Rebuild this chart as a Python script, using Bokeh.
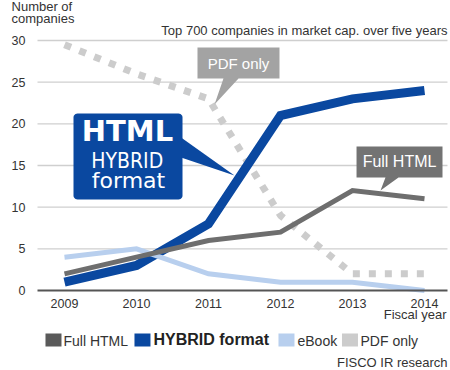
from bokeh.plotting import figure
from bokeh.models import Range1d, FixedTicker
from bokeh.core.properties import value
from bokeh.embed import file_html
from bokeh.resources import INLINE
import numpy as np

# ---------------- data ----------------
years = [2009, 2010, 2011, 2012, 2013, 2014]
full_html = [2, 4, 6, 7, 12, 11]
hybrid = [1, 3, 8, 21, 23, 24]
ebook = [4, 5, 2, 1, 1, 0]
pdf_only = [29.5, 26, 23, 9, 2, 2]
y_ticks = [0, 5, 10, 15, 20, 25, 30]
series_names = ["Full HTML", "HYBRID format", "eBook", "PDF only"]

# ---------------- style ----------------
C_FULL = "#6e6e6e"
C_FULL_SQ = "#5a5a5a"
C_HYB = "#0a48a0"
C_EBOOK = "#b8cfee"
C_PDF = "#cccccc"
C_GRID = "#cfcfcf"
C_TXT = "#333333"
FONT = "Liberation Sans"

# pixel scale: 72 px per year, 25/3 px per company
SX = 72.0
SY = 25.0 / 3.0

p = figure(width=450, height=370, output_backend="svg", toolbar_location=None,
           x_range=Range1d(2008.1111, 2014.3611), y_range=Range1d(-9.6, 34.8),
           min_border=0, min_border_left=0, min_border_right=0,
           min_border_top=0, min_border_bottom=0)
p.outline_line_color = None
p.background_fill_color = "white"
p.border_fill_color = "white"
p.xgrid.visible = False
p.ygrid.visible = False

# axes drawn at fixed locations inside the canvas
x_left, x_right = 2008.625, 2014.319
p.xaxis.fixed_location = 0
p.xaxis.ticker = FixedTicker(ticks=years)
p.xaxis.bounds = (x_left, x_right)
p.xaxis.axis_line_color = "#555555"
p.xaxis.axis_line_width = 2
p.xaxis.major_tick_line_color = None
p.xaxis.minor_tick_line_color = None
p.xaxis.major_label_text_font = FONT
p.xaxis.major_label_text_font_size = "12.5px"
p.xaxis.major_label_text_color = C_TXT
p.xaxis.major_label_standoff = 2

p.yaxis.fixed_location = x_left
p.yaxis.ticker = FixedTicker(ticks=y_ticks)
p.yaxis.axis_line_color = None
p.yaxis.major_tick_line_color = None
p.yaxis.minor_tick_line_color = None
p.yaxis.major_label_text_font = FONT
p.yaxis.major_label_text_font_size = "12.5px"
p.yaxis.major_label_text_color = C_TXT
p.yaxis.major_label_standoff = 6

# grid lines (from tick values)
grid_y = [t for t in y_ticks if t != 0]
p.segment(x0=[x_left] * len(grid_y), x1=[x_right] * len(grid_y), y0=grid_y, y1=grid_y,
          line_color=C_GRID, line_width=1.4)

# ---------------- series ----------------
p.line(years, pdf_only, line_color=C_PDF, line_width=7, line_dash="7 9")
p.line(years, hybrid, line_color=C_HYB, line_width=9, line_join="miter")
p.line(years, ebook, line_color=C_EBOOK, line_width=5, line_join="miter")
p.line(years, full_html, line_color=C_FULL, line_width=5, line_join="miter")


def txt(x, y, t, size, color=C_TXT, align="left", font=FONT, style="normal"):
    # y is the wanted baseline; shift to compensate the renderer's baseline offset
    px = float(size.replace("px", ""))
    y_adj = y + 0.37 * px / SY
    p.text(x=[x], y=[y_adj], text=[t], text_font=value(font), text_font_size=size,
           text_color=color, text_align=align, text_baseline="alphabetic",
           text_font_style=style)


# ---------------- callouts ----------------
# PDF only
p.patch([2010.847, 2011.986, 2011.986, 2011.417, 2011.083, 2011.208, 2010.847],
        [29.16, 29.16, 25.44, 25.44, 22.32, 25.44, 25.44],
        fill_color="#a3a3a3", line_color=None)
txt(2011.417, 26.6, "PDF only", "15px", color="white", align="center")

# Full HTML
p.patch([2013.056, 2014.25, 2014.25, 2013.639, 2013.389, 2013.458, 2013.056],
        [17.28, 17.28, 13.56, 13.56, 12.0, 13.56, 13.56],
        fill_color="#737373", line_color=None)
txt(2013.653, 14.8, "Full HTML", "16px", color="white", align="center")

# HTML HYBRID format (rounded box + pointer)
bx0, bx1, by0, by1 = 2009.125, 2010.639, 10.92, 21.24
rx, ry = 4 / SX, 4 / SY
xs, ys = [], []
for cx, cy, a0 in [(bx1 - rx, by1 - ry, 0), (bx0 + rx, by1 - ry, 90),
                   (bx0 + rx, by0 + ry, 180), (bx1 - rx, by0 + ry, 270)]:
    ang = np.radians(np.linspace(a0, a0 + 90, 7))
    xs += list(cx + rx * np.cos(ang))
    ys += list(cy + ry * np.sin(ang))
p.patch(xs, ys, fill_color=C_HYB, line_color=None)
p.patch([bx1 - 0.02, 2011.361, bx1 - 0.02], [18.36, 13.8, 15.96],
        fill_color=C_HYB, line_color=None)
txt(2009.875, 17.8, "HTML", "29px", color="white", align="center",
    font="DejaVu Sans", style="bold")
txt(2009.871, 14.6, "HYBRID", "21px", color="white", align="center",
    font="DejaVu Sans Condensed")
txt(2009.889, 12.24, "format", "22px", color="white", align="center",
    font="DejaVu Sans")

# ---------------- titles ----------------
txt(2008.264, 33.45, "Number of", "13px")
txt(2008.264, 32.1, "companies", "13px")
txt(2014.319, 30.64, "Top 700 companies in market cap. over five years", "13px", align="right")
txt(2014.306, -3.4, "Fiscal year", "13px", align="right")
txt(2014.319, -9.2, "FISCO IR research", "13px", align="right")

# ---------------- legend ----------------
sq_x = [2008.847, 2010.083, 2012.083, 2012.965]
sq_col = [C_FULL_SQ, C_HYB, C_EBOOK, C_PDF]
p.rect(x=sq_x, y=[-5.94] * 4, width=16, height=13, width_units="screen",
       height_units="screen", fill_color=sq_col, line_color=None)
lab_x = [2008.986, 2010.236, 2012.236, 2013.111]
for i, name in enumerate(series_names):
    if i == 1:
        txt(lab_x[i], -6.64, name, "16px", color="#222222", style="bold")
    else:
        txt(lab_x[i], -6.64, name, "14px")

open("out.html", "w").write(file_html(p, INLINE))
